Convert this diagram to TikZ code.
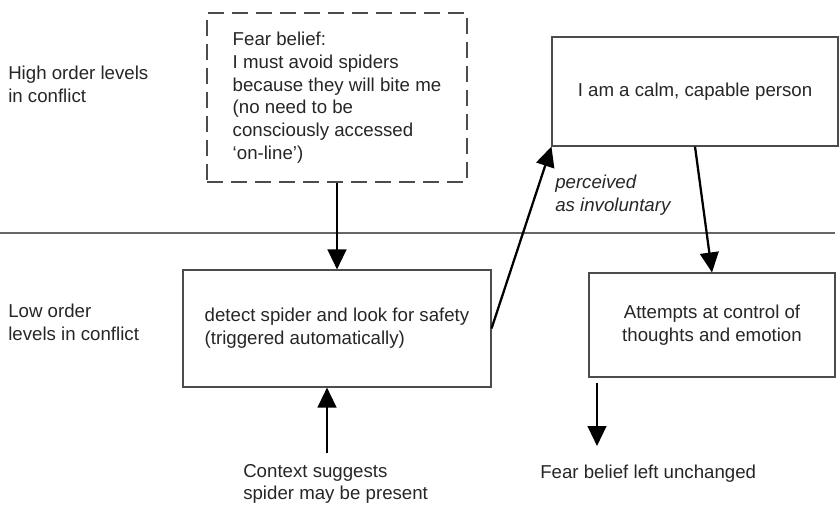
\documentclass[tikz,border=0pt]{standalone}
\usepackage{fontspec}
\setmainfont{Liberation Sans}
\usetikzlibrary{arrows.meta}

\begin{document}
\begin{tikzpicture}[x=0.75pt,y=-0.75pt,
    font=\fontsize{14}{17}\selectfont, text=black!85]
      \useasboundingbox (0,0) rectangle (839,504);
      % level divider
      \coordinate (divl) at (0,233);
      \coordinate (divr) at (835,233);
      \draw[black!60,line width=0.8pt] (divl) -- (divr);
      \begin{scope}[every node/.style={draw=black!70,line width=0.8pt,inner sep=0pt}]
        \node[dashed,dash pattern=on 12pt off 6pt,align=left,
              minimum width=195pt,minimum height=126.75pt] (fear) at (337,97.5)
          {Fear belief:\\I must avoid spiders\\because they will bite me\\(no need to be\\consciously accessed\\`on-line')};
        \node[align=left,minimum width=231pt,minimum height=87.75pt] (detect) at (337,328.5)
          {detect spider and look for safety\\(triggered automatically)};
        \node[minimum width=214.5pt,minimum height=81.75pt] (calm) at (695,91.5)
          {I am a calm, capable person};
        \node[align=center,minimum width=184.5pt,minimum height=78pt] (attempts) at (712,325)
          {Attempts at control of\\thoughts and emotion};
      \end{scope}
      \begin{scope}[every node/.style={align=left,inner sep=0pt,anchor=west}]
        \node (high) at (8,84) {High order levels\\in conflict};
        \node (low) at (8,322) {Low order\\levels in conflict};
        \node[font=\fontsize{14}{17}\selectfont\itshape] (invol) at (555,195) {perceived\\as involuntary};
        \node (context) at (243,484) {Context suggests\\spider may be present};
        \node (unchanged) at (540,474) {Fear belief left unchanged};
      \end{scope}
      \coordinate (outstart) at (597,383);
      \coordinate (outend) at (597,446);
      \coordinate (instart) at (327,453);
      \begin{scope}[every edge/.style={draw,line width=1.7pt,
          -{Triangle[length=15pt,width=14pt]}}]
        \path (fear) edge (detect);
        \path (detect.east) edge (calm.south west);
        \path (calm.south) edge (attempts.north);
        \path (outstart) edge (outend);
        \path (instart) edge (instart |- detect.south);
      \end{scope}
    \end{tikzpicture}
\end{document}
